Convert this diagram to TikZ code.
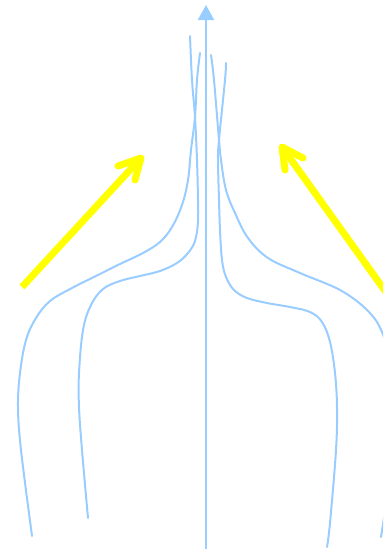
\documentclass[tikz,border=0pt]{standalone}
\usetikzlibrary{arrows.meta}
\definecolor{flowblue}{RGB}{153,204,255}
\definecolor{arrowyellow}{RGB}{255,255,0}
\tikzset{
  streamline/.style={draw=flowblue, line width=2pt, line cap=round},
  axisline/.style={draw=flowblue, line width=2pt, -{Triangle[length=15pt,width=16pt]}},
  yshaft/.style={draw=arrowyellow, line width=7pt, line cap=butt},
  ybarb/.style={draw=arrowyellow, line width=7pt, line cap=round, line join=round},
}
\begin{document}
\begin{tikzpicture}[x=1pt,y=-1pt]
\useasboundingbox (0,0) rectangle (383,549);
\clip (0,0) rectangle (383,549);
% axis
\coordinate (axb) at (206,549);
\coordinate (axt) at (206,5);
\draw[axisline] (axb) -- (axt);
% outer left streamline
\draw[streamline] plot[smooth, tension=0.6] coordinates {(200,53) (197,80) (195,117) (191,150) (188,180) (182,205) (172,227) (160,242) (143,253) (120,264) (100,274) (72,288) (50,301) (36,318) (26,340) (20,373) (18,407) (21,450) (32,536)};
% inner left streamline
\draw[streamline] plot[smooth, tension=0.6] coordinates {(190,36) (192,80) (195,117) (197,160) (198,200) (198,222) (195,241) (188,253) (177,263) (160,271) (140,276) (120,281) (103,289) (91,305) (83,330) (79,373) (79,407) (82,450) (88,518)};
% outer right streamline
\draw[streamline] plot[smooth, tension=0.6] coordinates {(211,55) (214,80) (219,140) (221,160) (226,190) (235,213) (248,238) (268,258) (300,273) (340,290) (367,310) (382,332) (392,370) (395,407) (392,460) (381,537)};
% inner right streamline
\draw[streamline] plot[smooth, tension=0.6] coordinates {(226,63) (225,80) (219,140) (218,160) (219,200) (220,230) (222,260) (226,277) (234,290) (247,298) (267,303) (290,307) (310,312) (322,322) (330,342) (335,373) (337,407) (336,450) (330,523) (327,547)};
% left yellow arrow
\coordinate (lt) at (22,287);
\coordinate (lh) at (141,158);
\coordinate (lb1) at (118,166);
\coordinate (lb2) at (135,180);
\draw[yshaft] (lt) -- (lh);
\draw[ybarb] (lb1) -- (lh) -- (lb2);
% right yellow arrow
\coordinate (rt) at (388,295);
\coordinate (rh) at (282,147);
\coordinate (rb1) at (303,158);
\coordinate (rb2) at (285,170);
\draw[yshaft] (rt) -- (rh);
\draw[ybarb] (rb1) -- (rh) -- (rb2);
\end{tikzpicture}
\end{document}
